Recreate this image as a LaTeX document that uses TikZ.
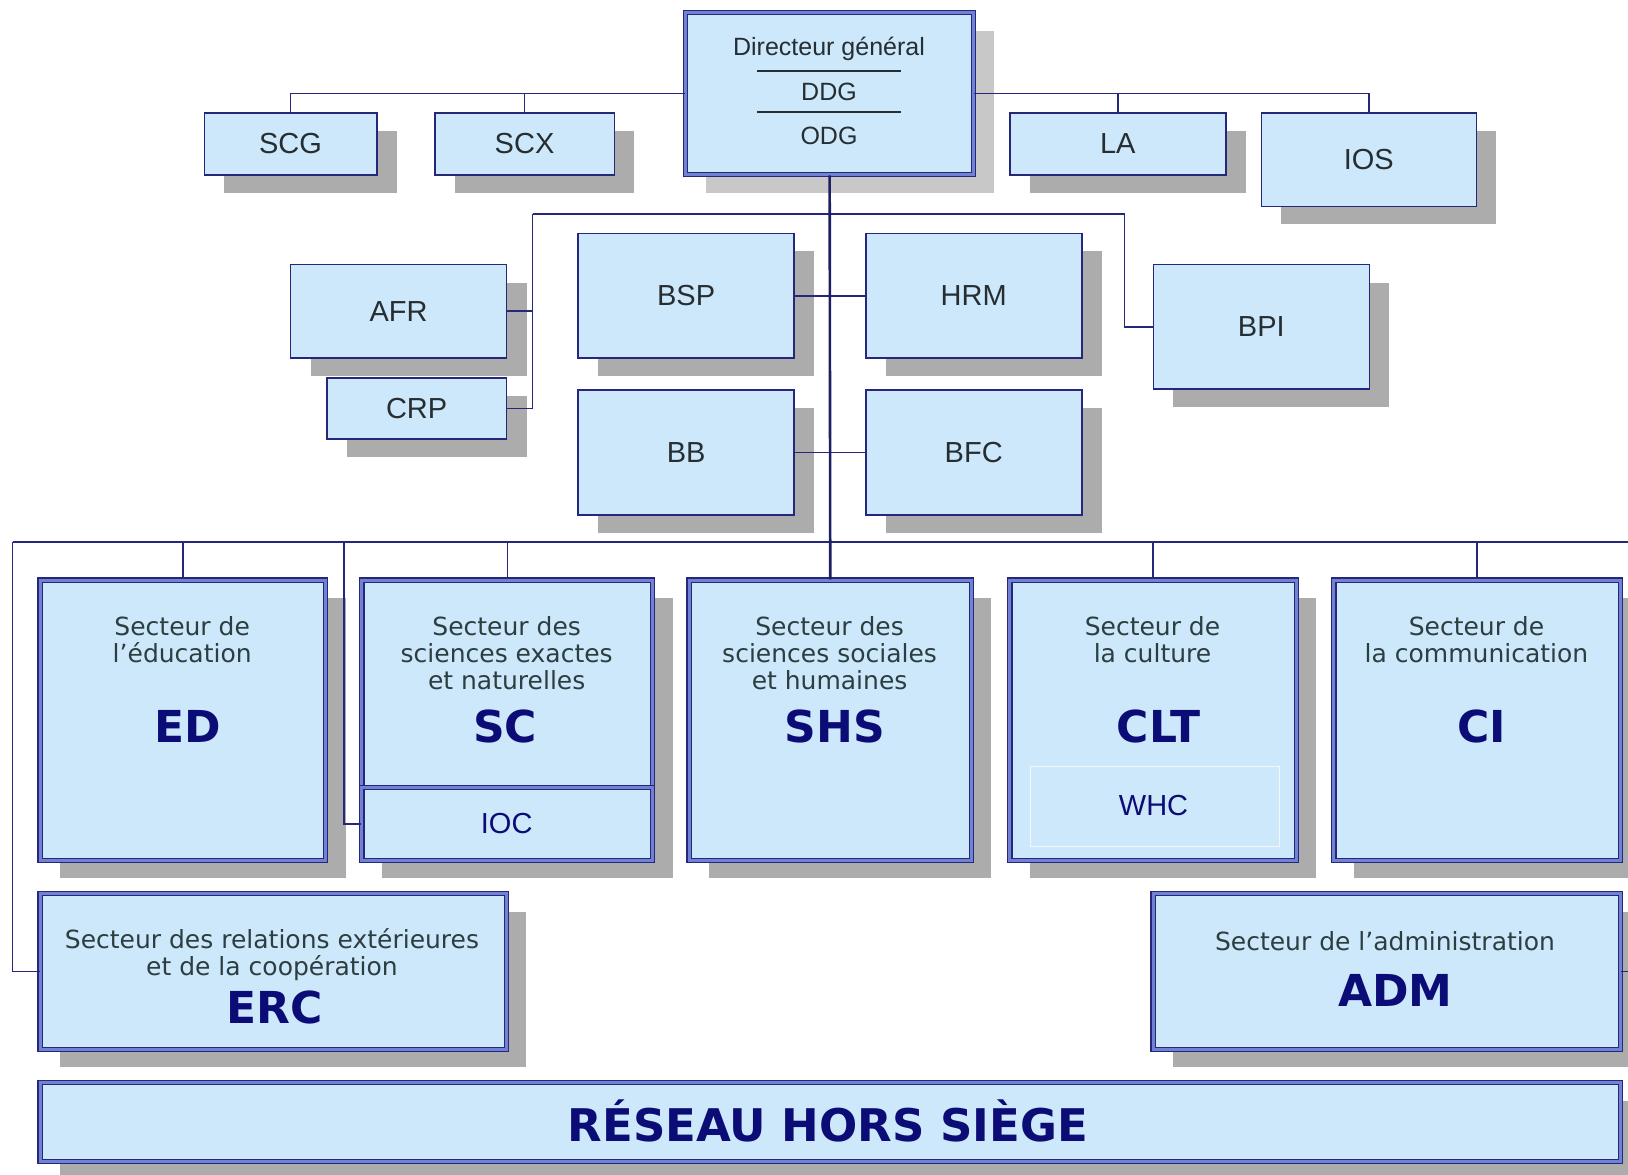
\documentclass[tikz,border=0pt]{standalone}
\usepackage{fontspec}
\newfontfamily\arialf{Liberation Sans}
\newfontfamily\verdf{DejaVu Sans}
\usetikzlibrary{shadows}

\definecolor{boxfill}{RGB}{205,232,251}
\definecolor{navy}{RGB}{38,38,122}
\definecolor{band}{RGB}{112,130,212}
\definecolor{shgray}{RGB}{172,172,172}
\definecolor{shlight}{RGB}{200,200,200}
\definecolor{labelgray}{RGB}{38,46,50}
\definecolor{sectgray}{RGB}{45,62,64}
\definecolor{acro}{RGB}{12,12,118}

\tikzset{
  sh/.style={general shadow={fill=shgray, shadow xshift=20pt, shadow yshift=-18pt}},
  shl/.style={general shadow={fill=shlight, shadow xshift=20pt, shadow yshift=-18pt}},
  plainbox/.style={draw=navy, line width=1.6pt, fill=boxfill, inner sep=0pt,
    anchor=north west, font=\arialf\fontsize{29}{33}\selectfont, text=labelgray},
  dbox/.style={draw=navy, line width=1.3pt, double=band, double distance=3pt,
    fill=boxfill, inner sep=0pt, anchor=north west},
  sz/.style 2 args={minimum width=#1pt, minimum height=#2pt},
  dgtext/.style={font=\arialf\fontsize{25}{28}\selectfont, text=labelgray, inner sep=0pt},
  secttext/.style={font=\verdf\fontsize{25}{27}\selectfont, text=sectgray, align=center, inner sep=0pt},
  acrotext/.style={font=\verdf\bfseries\fontsize{44}{48}\selectfont, text=acro, inner sep=0pt},
  subtext/.style={font=\arialf\fontsize{29}{33}\selectfont, text=acro, inner sep=0pt},
  conn/.style={draw=navy, line width=1.6pt},
  trunk/.style={draw=navy!80!black, line width=2.6pt},
}

\begin{document}
\begin{tikzpicture}[x=1pt, y=-1pt]
\useasboundingbox (0,0) rectangle (1628,1175);

% --- top level: director general and attached services
\node[dbox, shl, sz={288}{162}] (DG) at (685,12) {};
\node[plainbox, sh, sz={172.5}{62}] (SCG) at (203.5,112) {SCG};
\node[plainbox, sh, sz={179.5}{62}] (SCX) at (434,112) {SCX};
\node[plainbox, sh, sz={216}{62}] (LA) at (1009,112) {LA};
\node[plainbox, sh, sz={215}{93.5}] (IOS) at (1260.5,112) {IOS};

\node[dgtext] (DGa) at (829,49) {Directeur général};
\node[dgtext] (DGb) at (829,92) {DDG};
\node[dgtext] (DGc) at (829,136) {ODG};
\coordinate (r1a) at (757,71);
\coordinate (r1b) at (901,71);
\coordinate (r2a) at (757,112);
\coordinate (r2b) at (901,112);
\draw[labelgray, line width=1.4pt] (r1a) -- (r1b);
\draw[labelgray, line width=1.4pt] (r2a) -- (r2b);

% --- central services
\node[plainbox, sh, sz={216}{93.5}] (AFR) at (289.7,263.7) {AFR};
\node[plainbox, sh, sz={179.7}{61}] (CRP) at (326,377) {CRP};
\node[plainbox, sh, sz={216}{124.6}] (BSP) at (577.3,232.6) {BSP};
\node[plainbox, sh, sz={216}{124.6}] (HRM) at (864.9,232.6) {HRM};
\node[plainbox, sh, sz={216}{124.6}] (BB) at (577.3,389.4) {BB};
\node[plainbox, sh, sz={216}{124.6}] (BFC) at (864.9,389.4) {BFC};
\node[plainbox, sh, sz={216}{124.6}] (BPI) at (1152.5,263.7) {BPI};

% --- programme sectors
\node[dbox, sh, sz={285.5}{280.3}] (ED) at (39.5,579.4) {};
\node[dbox, sh, sz={290.7}{280.3}] (SC) at (361.3,579.4) {};
\node[dbox, sz={290.7}{72.7}] (IOC) at (361.3,787) {};
\node[dbox, sh, sz={282.4}{280.3}] (SHS) at (688.4,579.4) {};
\node[dbox, sh, sz={286.6}{280.3}] (CLT) at (1009.2,579.4) {};
\node[draw=white!70!boxfill, line width=1pt, inner sep=0pt, anchor=north west, sz={249.2}{79.9}] (WHC) at (1030,766.3) {};
\node[dbox, sh, sz={286.5}{280.3}] (CI) at (1333.2,579.4) {};

\node[secttext] (EDt) at (182.2,639.5) {Secteur de\\l’éducation};
\node[acrotext] (EDa) at (188,726) {ED};
\node[secttext] (SCt) at (506.7,653) {Secteur des\\sciences exactes\\et naturelles};
\node[acrotext] (SCa) at (505,726) {SC};
\node[subtext] (IOCt) at (506.7,824) {IOC};
\node[secttext] (SHSt) at (829.6,653) {Secteur des\\sciences sociales\\et humaines};
\node[acrotext] (SHSa) at (835,726) {SHS};
\node[secttext] (CLTt) at (1152.5,639.5) {Secteur de\\la culture};
\node[acrotext] (CLTa) at (1158.5,726) {CLT};
\node[subtext] (WHCt) at (1153.5,806) {WHC};
\node[secttext] (CIt) at (1476.5,639.5) {Secteur de\\la communication};
\node[acrotext] (CIa) at (1482,726) {CI};

% --- support sectors and field network
\node[dbox, sh, sz={466.2}{155.7}] (ERC) at (39.5,893) {};
\node[secttext] (ERCt) at (272,954.5) {Secteur des relations extérieures\\et de la coopération};
\node[acrotext] (ERCa) at (275,1007) {ERC};
\node[dbox, sh, sz={467.2}{155.7}] (ADM) at (1152.5,893) {};
\node[secttext] (ADMt) at (1385,941) {Secteur de l’administration};
\node[acrotext] (ADMa) at (1395.5,990) {ADM};
\node[dbox, sh, sz={1580.2}{78.9}] (RHS) at (39.5,1081.9) {};
\node[acrotext, font=\verdf\bfseries\fontsize{45}{49}\selectfont] (RHSt) at (828,1121) {RÉSEAU HORS SIÈGE};

% --- connectors: top level
\draw[conn] (DG.west) -| (SCG.north);
\draw[conn] (DG.west -| SCX.north) -- (SCX.north);
\draw[conn] (DG.east) -| (IOS.north);
\draw[conn] (DG.east -| LA.north) -- (LA.north);

% --- connectors: central services
\coordinate (mL) at (532.6,214);
\coordinate (mR) at (1124.5,214);
\draw[conn] (mL) -- (mR);
\draw[conn] (mL) |- (CRP.east);
\draw[conn] (mL |- AFR.east) -- (AFR.east);
\draw[conn] (mR) |- (BPI.west);
\draw[conn] (BSP.east) -- (HRM.west);
\draw[conn] (BB.east) -- (BFC.west);

% --- connectors: sector bus (its right-hand riser runs just past the page edge)
\coordinate (busL) at (12.5,542);
\coordinate (busR) at (1633,542);
\coordinate (busI) at (343.7,542);
\draw[conn] (busL) -- (busR);
\draw[conn] (busL) |- (ERC.west);
\draw[conn] (busR) |- (ADM.east);
\draw[conn] (busI) |- (IOC.west);
\draw[conn] (ED.north |- busL) -- (ED.north);
\draw[conn] (SC.north |- busL) -- (SC.north);
\draw[conn] (CLT.north |- busL) -- (CLT.north);
\draw[conn] (CI.north |- busL) -- (CI.north);

% --- main trunk from the director general down to the sectors
\draw[trunk] (DG.south) -- (SHS.north);
\end{tikzpicture}
\end{document}
